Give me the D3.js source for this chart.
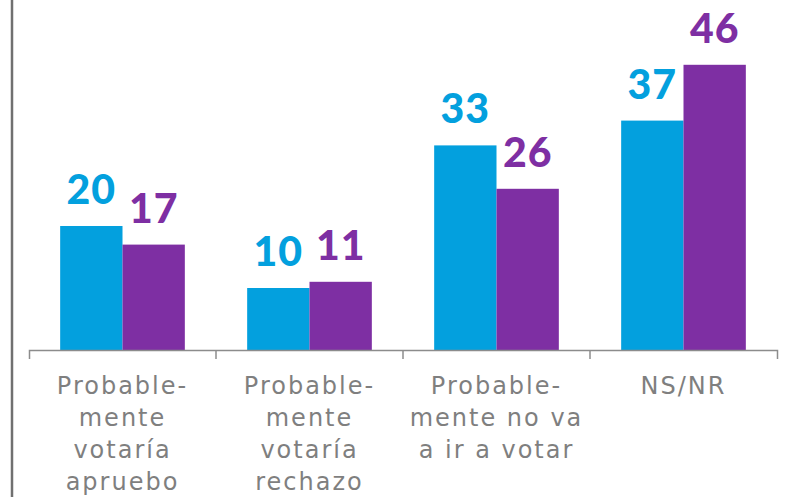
<!DOCTYPE html>
<html>
<head>
<meta charset="utf-8">
<script src="https://cdn.jsdelivr.net/npm/d3@7"></script>
<style>
  body { margin: 0; background: #fff; }
  svg { display: block; }
</style>
</head>
<body>
<div id="chart"></div>
<script>
// Data
var categories = ['c1', 'c2', 'c3', 'c4'];
var categoryLines = [
    ['Probable-', 'mente', 'votaría', 'apruebo'],
    ['Probable-', 'mente', 'votaría', 'rechazo'],
    ['Probable-', 'mente no va', 'a ir a votar'],
    ['NS/NR']
];
var series = ['s1', 's2'];
var seriesA = [20, 10, 33, 37];
var seriesB = [17, 11, 26, 46];
var colors = ['#03a0de', '#7e2fa3'];

var width = 785, height = 497;
var baseY = 350;

var svg = d3.select('#chart').append('svg')
    .attr('width', width)
    .attr('height', height);

// Left border line
svg.append('line')
    .attr('x1', 12).attr('x2', 12)
    .attr('y1', 0).attr('y2', height)
    .attr('stroke', '#707070')
    .attr('stroke-width', 2.5);

// Scales
var x0 = d3.scaleBand().domain(categories).range([29, 777]).padding(0);
var x1 = d3.scaleBand().domain(series).range([0, x0.bandwidth()]).paddingInner(0).paddingOuter(0.5);
var y = d3.scaleLinear().domain([0, 56.45]).range([baseY, 0]);

var rows = categories.map(function(c, i) {
    return {cat: c, lines: categoryLines[i], values: [seriesA[i], seriesB[i]]};
});

var groups = svg.selectAll('.grp')
    .data(rows)
    .enter()
    .append('g')
    .attr('class', 'grp')
    .attr('transform', function(d) { return 'translate(' + x0(d.cat) + ',0)'; });

var bars = groups.selectAll('.bar')
    .data(function(d) { return d.values.map(function(v, j) { return {s: series[j], v: v, j: j}; }); })
    .enter();

bars.append('rect')
    .attr('x', function(d) { return x1(d.s); })
    .attr('y', function(d) { return y(d.v); })
    .attr('width', x1.bandwidth())
    .attr('height', function(d) { return baseY - y(d.v); })
    .attr('fill', function(d) { return colors[d.j]; });

// Value labels
bars.append('text')
    .attr('x', function(d) { return x1(d.s) + x1.bandwidth() / 2; })
    .attr('y', function(d) { return y(d.v) - 22; })
    .attr('text-anchor', 'middle')
    .style('font-family', 'Lato, "Open Sans", sans-serif')
    .style('font-weight', 900)
    .style('font-size', '41px')
    .style('letter-spacing', '1px')
    .attr('fill', function(d) { return colors[d.j]; })
    .text(function(d) { return d.v; });

// X axis
var xAxis = d3.axisBottom(x0).tickSize(0).tickSizeOuter(9).tickFormat('');
var ax = svg.append('g')
    .attr('transform', 'translate(0,' + baseY + ')')
    .call(xAxis);
ax.select('.domain').attr('stroke', '#8c8c8c').attr('stroke-width', 1.5);
ax.selectAll('.tick').remove();
ax.selectAll('.sep')
    .data(categories.slice(1))
    .enter()
    .append('line')
    .attr('x1', function(d) { return x0(d); })
    .attr('x2', function(d) { return x0(d); })
    .attr('y1', 0).attr('y2', 9)
    .attr('stroke', '#8c8c8c')
    .attr('stroke-width', 1.5);

// Category labels
var labels = svg.selectAll('.cat-label')
    .data(rows)
    .enter()
    .append('text')
    .attr('class', 'cat-label')
    .attr('text-anchor', 'middle')
    .style('font-family', '"DejaVu Sans", sans-serif')
    .style('font-size', '24px')
    .style('letter-spacing', '2px')
    .attr('fill', '#7f7f7f');

labels.selectAll('tspan')
    .data(function(d) { return d.lines.map(function(l) { return {l: l, cx: x0(d.cat) + x0.bandwidth() / 2}; }); })
    .enter()
    .append('tspan')
    .attr('x', function(d) { return d.cx; })
    .attr('y', function(d, i) { return 394 + i * 32; })
    .text(function(d) { return d.l; });
</script>
</body>
</html>
